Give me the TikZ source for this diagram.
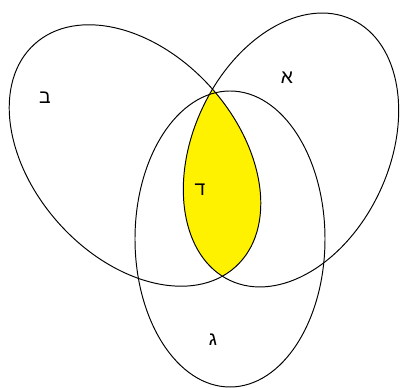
\documentclass[tikz,border=0pt]{standalone}
\usepackage{fontspec}
\newfontfamily\hebfont[Script=Hebrew]{Liberation Sans}
\TeXXeTstate=1
\begin{document}
\begin{tikzpicture}[x=0.02cm,y=0.02cm,
  outline/.style={draw=black,line width=0.55pt},
  lbl/.style={font=\hebfont\fontsize{11}{13}\selectfont,inner sep=0pt}]
\useasboundingbox (0,0) rectangle (400,388);
% region fill: intersection of alef and bet
\begin{scope}
  \clip (135,232.5) [rotate around={-48:(135,232.5)}] ellipse [x radius=150,y radius=102];
  \fill[yellow] (291,238) [rotate around={65:(291,238)}] ellipse [x radius=144,y radius=98];
\end{scope}
% outlines
\draw[outline] (135,232.5) [rotate around={-48:(135,232.5)}] ellipse [x radius=150,y radius=102];
\draw[outline] (291,238) [rotate around={65:(291,238)}] ellipse [x radius=144,y radius=98];
\draw[outline] (230,149) ellipse [x radius=95,y radius=148];
% labels
\node[lbl] (alef) at (287,310) {\beginR א\endR};
\node[lbl] (bet) at (45,290) {\beginR ב\endR};
\node[lbl] (gimel) at (213,48) {\beginR ג\endR};
\node[lbl] (dalet) at (200,198) {\beginR ד\endR};
\end{tikzpicture}
\end{document}
